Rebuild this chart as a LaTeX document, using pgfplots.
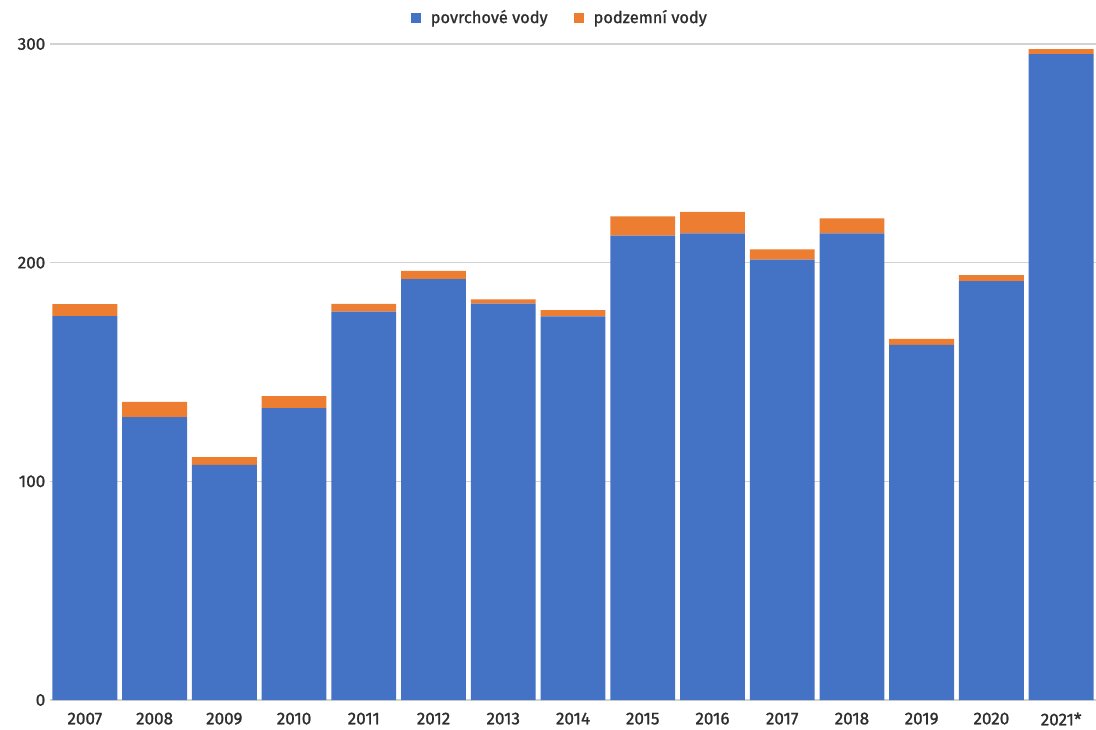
\documentclass[border=0pt]{standalone}
\usepackage{pgfplots}
\pgfplotsset{compat=1.18}
\usepackage{pgfplotstable}
\usepackage{fontspec}
\setmainfont{Fira Sans}
\newfontfamily\medfont{Fira Sans}[RawFeature={embolden=1.2}]
\definecolor{cblue}{HTML}{4472C4}
\definecolor{corange}{HTML}{ED7D31}
\definecolor{ctext}{HTML}{2E2E2E}
\pgfplotstableread{
x povrch podzem
0 175.5 5.5
1 129.4 6.9
2 107.5 3.6
3 133.5 5.5
4 177.6 3.6
5 192.5 3.7
6 181.3 1.9
7 175.4 2.9
8 212.4 8.8
9 213.4 9.8
10 201.4 4.7
11 213.4 6.9
12 162.4 2.7
13 191.6 2.7
14 295.4 2.3
}\data
\begin{document}
\begin{tikzpicture}
\useasboundingbox (0,0) rectangle (822pt,546.75pt);
\begin{axis}[
  at={(37.5pt,21.75pt)}, anchor=south west,
  scale only axis,
  width=784.5pt, height=492pt,
  xmin=-0.5, xmax=14.5,
  ymin=0, ymax=300,
  ybar stacked,
  bar width=0.93,
  axis line style={draw=none},
  ymajorgrids,
  grid style={gray!35, line width=0.8pt},
  ytick={0,100,200,300},
  xtick=data,
  xticklabels={2007,2008,2009,2010,2011,2012,2013,2014,2015,2016,2017,2018,2019,2020,2021*},
  tick style={draw=none},
  tick label style={font=\medfont\fontsize{12.8}{14}\selectfont, text=ctext},
  xticklabel style={yshift=-6pt},
  yticklabel style={xshift=0pt},
  /pgf/number format/assume math mode=true,
  clip=false,
  legend style={at={(0.488,1)}, anchor=south, yshift=10pt, draw=none,
    font=\medfont\fontsize{12.3}{14}\selectfont, text=ctext,
    legend columns=2, column sep=5pt,
    /tikz/every even column/.append style={column sep=18pt}},
  legend image code/.code={\fill[#1] (0pt,-3.8pt) rectangle (7.5pt,3.7pt);},
]
\addplot[fill=cblue, draw=none] table[x=x, y=povrch] {\data};
\addlegendentry{povrchové vody}
\addplot[fill=corange, draw=none] table[x=x, y=podzem] {\data};
\addlegendentry{podzemní vody}
\end{axis}
\end{tikzpicture}
\end{document}
